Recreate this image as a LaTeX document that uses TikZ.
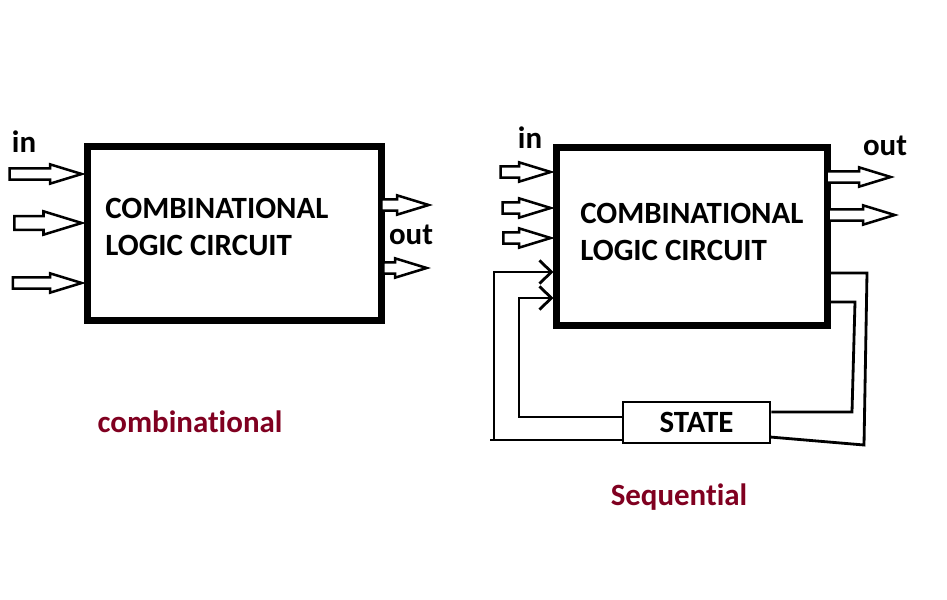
\documentclass[tikz,border=0pt]{standalone}
\usepackage{fontspec}
\setmainfont{Carlito}[Ligatures=NoCommon]
\usetikzlibrary{shapes.arrows,arrows.meta}
\definecolor{darkred}{RGB}{128,0,32}

\begin{document}
\begin{tikzpicture}[x=0.025cm,y=-0.025cm,
    font=\fontsize{22}{26}\selectfont\bfseries,
    block/.style={draw,line width=5pt,inner sep=0pt},
    hollow/.style={single arrow,draw,fill=white,line width=1.8pt,
      inner xsep=0pt,inner ysep=0.11cm,minimum width=0pt,
      single arrow head extend=0.1cm,
      single arrow tip angle=34,anchor=tip,minimum height=#1},
    loopline/.style={line width=2pt},
    caption/.style={text=darkred,anchor=base}]
  \useasboundingbox (0,0) rectangle (947,599);

  % combinational
  \node[block,minimum width=7.325cm,minimum height=4.325cm] (lbox) at (234.5,233.5) {};
  \node[anchor=base west,inner sep=0pt] (ltop) at (105,218) {COMBINATIONAL};
  \node[anchor=base west,inner sep=0pt] (lbot) at (105,255) {LOGIC CIRCUIT};
  \node[anchor=base,inner sep=0pt] (lin) at (24,152) {in};
  \node[hollow=1.8cm] (li1) at (86,174) {};
  \node[hollow=1.68cm,inner ysep=0.14cm,single arrow head extend=0.12cm] (li2) at (86,223) {};
  \node[hollow=1.72cm] (li3) at (86,283) {};
  \node[hollow=1.18cm] (lo1) at (433,205) {};
  \node[hollow=1.08cm] (lo2) at (431,268) {};
  \node[anchor=base,inner sep=0pt] (lout) at (411,244) {out};
  \node[caption] (cap1) at (190,432) {combinational};

  % sequential
  \node[block,minimum width=6.75cm,minimum height=4.425cm] (rbox) at (692,236.5) {};
  \node[anchor=base west,inner sep=0pt] (rtop) at (580,223) {COMBINATIONAL};
  \node[anchor=base west,inner sep=0pt] (rbot) at (580,260) {LOGIC CIRCUIT};
  \node[anchor=base,inner sep=0pt] (rin) at (530,148) {in};
  \node[hollow=1.25cm] (ri1) at (555,172) {};
  \node[hollow=1.2cm] (ri2) at (555,208) {};
  \node[hollow=1.18cm] (ri3) at (555,238) {};
  \node[hollow=1.6cm] (ro1) at (895,177) {};
  \node[hollow=1.65cm] (ro2) at (899,215) {};
  \node[anchor=base,inner sep=0pt] (rout) at (885,155) {out};
  \node[draw,line width=2pt,minimum width=3.675cm,minimum height=1.025cm,inner sep=0pt] (state) at (696.5,422.5) {STATE};
  \node[caption] (cap2) at (679,505) {Sequential};

  % feedback loops
  \coordinate (oa) at (867,273);
  \coordinate (ob) at (864,445);
  \coordinate (oc) at (770,437);
  \coordinate (od) at (490,440);
  \coordinate (oe) at (494,272);
  \coordinate (ia) at (855,302);
  \coordinate (ib) at (852,412);
  \coordinate (ic) at (519,417);
  \coordinate (id) at (519,298);
  \draw[loopline] (rbox.east |- oa) -- (oa) -- (ob) -- (oc);
  \draw[loopline,-{Straight Barb[length=0.3cm,width=0.58cm]}] (state.west |- od) -- (od) -- (oe |- od) -- (oe) -- (rbox.west |- oe);
  \draw[loopline] (rbox.east |- ia) -- (ia) -- (ib) -- (state.east |- ib);
  \draw[loopline,-{Straight Barb[length=0.3cm,width=0.58cm]}] (state.west |- ic) -- (ic) -- (id) -- (rbox.west |- id);
\end{tikzpicture}
\end{document}
